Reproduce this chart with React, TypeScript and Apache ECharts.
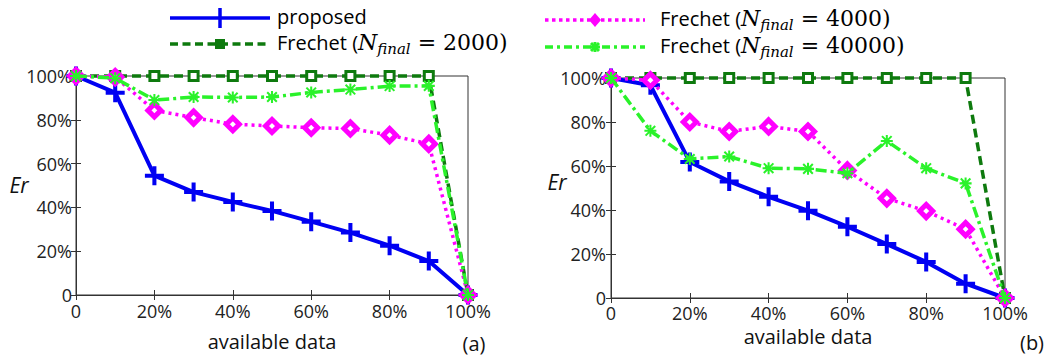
import React, { useEffect, useRef } from 'react';
import * as echarts from 'echarts';

// ---------- data ----------
const availableData = [0, 10, 20, 30, 40, 50, 60, 70, 80, 90, 100];

// panel (a)
const proposedA = [100, 92.4, 54.5, 47, 42.5, 38.4, 33.5, 28.5, 22.5, 15.5, 0];
const frechet2000A = [100, 100, 100, 100, 100, 100, 100, 100, 100, 100, 0];
const frechet4000A = [100, 99.5, 84.3, 81, 78, 77.2, 76.4, 76, 73, 69, 0];
const frechet40000A = [100, 99, 89, 90.4, 90.2, 90.4, 92.5, 93.8, 95.4, 95.5, 0];

// panel (b)
const proposedB = [100, 96.7, 61.8, 53, 46, 39.7, 32.4, 24.5, 16.4, 6.5, 0];
const frechet2000B = [100, 100, 100, 100, 100, 100, 100, 100, 100, 100, 0];
const frechet4000B = [100, 99, 80, 75.7, 78, 75.7, 58, 45.3, 39.5, 31.3, 0];
const frechet40000B = [100, 76, 63.2, 64.3, 59, 58.7, 56.7, 71.4, 59, 52.1, 0];

const seriesNames = ['proposed', 'Frechet (N_final = 2000)', 'Frechet (N_final = 4000)', 'Frechet (N_final = 40000)'];
const legendNumbers = ['', '2000', '4000', '40000'];
const panelLabels = ['(a)', '(b)'];

// ---------- styles ----------
const BLUE = '#0000f2';
const DARK = '#0e7a0e';
const PINK = '#ff00ff';
const LIME = '#2af22a';
const SANS = '"Open Sans", sans-serif';
const SERIF = '"DejaVu Serif", serif';

const PLUS = 'path://M0,6.3L16,6.3L16,9.7L0,9.7Z M6.3,0L9.7,0L9.7,16L6.3,16Z';
const STAR =
  'path://M0,8.3L20,8.3L20,11.7L0,11.7Z M8.3,0L11.7,0L11.7,20L8.3,20Z M3.2,0.8L19.2,16.8L16.8,19.2L0.8,3.2Z M16.8,0.8L19.2,3.2L3.2,19.2L0.8,16.8Z';

const pct = (v: number) => (v === 0 ? '0' : `${v}%`);

const pairs = (vals: number[]) => availableData.map((x, i) => [x, vals[i]]);

function makeSeries(idx: number, vals: number[], grid: number) {
  const base: any = {
    type: 'line',
    name: seriesNames[idx],
    xAxisIndex: grid,
    yAxisIndex: grid,
    data: pairs(vals),
    clip: false,
    z: 3 + idx,
  };
  if (idx === 0) {
    return {
      ...base,
      symbol: PLUS,
      symbolSize: 19,
      itemStyle: { color: BLUE },
      lineStyle: { color: BLUE, width: 4 },
    };
  }
  if (idx === 1) {
    return {
      ...base,
      symbol: 'rect',
      symbolSize: 9,
      itemStyle: { color: '#ffffff', borderColor: DARK, borderWidth: 3 },
      lineStyle: { color: DARK, width: 3.5, type: [9, 5] },
    };
  }
  if (idx === 2) {
    return {
      ...base,
      symbol: 'diamond',
      symbolSize: 13,
      itemStyle: { color: '#ffffff', borderColor: PINK, borderWidth: 5 },
      lineStyle: { color: PINK, width: 3.5, type: [3, 4] },
    };
  }
  return {
    ...base,
    symbol: STAR,
    symbolSize: 12,
    itemStyle: { color: LIME },
    lineStyle: { color: LIME, width: 3.5, type: [11, 4, 3, 4] },
  };
}

const grids = [
  { left: 76, top: 76, width: 392, height: 219 },
  { left: 611, top: 78, width: 394, height: 220 },
];

const lineCol = '#333';

function mainX(g: number, nameGap: number, margin: number) {
  return {
    type: 'value',
    gridIndex: g,
    min: 0,
    max: 100,
    interval: 20,
    name: 'available data',
    nameLocation: 'middle',
    nameGap,
    nameTextStyle: { fontFamily: SANS, fontSize: 20, color: '#111' },
    axisLine: { show: true, lineStyle: { color: lineCol, width: 1 } },
    axisTick: { show: true, inside: true, length: 5, lineStyle: { color: lineCol } },
    axisLabel: { formatter: pct, fontFamily: SANS, fontSize: 18, color: '#222', margin },
    splitLine: { show: false },
  };
}
function topX(g: number) {
  return {
    type: 'value',
    gridIndex: g,
    position: 'top',
    min: 0,
    max: 100,
    interval: 20,
    axisLine: { show: true, lineStyle: { color: lineCol, width: 1 } },
    axisTick: { show: true, inside: true, length: 5, lineStyle: { color: lineCol } },
    axisLabel: { show: false },
    splitLine: { show: false },
  };
}
function mainY(g: number, margin: number) {
  return {
    type: 'value',
    gridIndex: g,
    min: 0,
    max: 100,
    interval: 20,
    axisLine: { show: true, lineStyle: { color: lineCol, width: 1 } },
    axisTick: { show: true, inside: true, length: 5, lineStyle: { color: lineCol } },
    axisLabel: { formatter: pct, fontFamily: SANS, fontSize: 18, color: '#222', margin },
    splitLine: { show: false },
  };
}
function rightY(g: number) {
  return {
    type: 'value',
    gridIndex: g,
    position: 'right',
    min: 0,
    max: 100,
    interval: 20,
    axisLine: { show: true, lineStyle: { color: lineCol, width: 1 } },
    axisTick: { show: true, inside: true, length: 5, lineStyle: { color: lineCol } },
    axisLabel: { show: false },
    splitLine: { show: false },
  };
}

const richLegend = {
  i: { fontFamily: SERIF, fontStyle: 'italic', fontSize: 22, lineHeight: 28, verticalAlign: 'middle' },
  s: { fontFamily: SERIF, fontStyle: 'italic', fontSize: 15, lineHeight: 15, verticalAlign: 'bottom' },
  m: { fontFamily: SERIF, fontSize: 22, lineHeight: 28, verticalAlign: 'middle' },
  t: { fontFamily: SANS, fontSize: 20, lineHeight: 28, verticalAlign: 'middle' },
};

function legendText(n: string) {
  return `{t|Frechet (}{i|N}{s|final}{m| = ${n})}`;
}

function legendEntry(idx: number, x1: number, y: number, textX: number): any[] {
  const x2 = x1 + 100;
  const cx = x1 + 50;
  const els: any[] = [];
  if (idx === 0) {
    els.push({ type: 'line', shape: { x1, y1: y, x2, y2: y }, style: { stroke: BLUE, lineWidth: 3.5 } });
    els.push({ type: 'line', shape: { x1: cx, y1: y - 10, x2: cx, y2: y + 10 }, style: { stroke: BLUE, lineWidth: 3.5 } });
  } else if (idx === 1) {
    els.push({ type: 'line', shape: { x1, y1: y, x2, y2: y }, style: { stroke: DARK, lineWidth: 3.5, lineDash: [8, 4.5] } });
    els.push({ type: 'rect', shape: { x: cx - 5, y: y - 5, width: 10, height: 10 }, style: { fill: DARK } });
  } else if (idx === 2) {
    els.push({ type: 'line', shape: { x1, y1: y, x2, y2: y }, style: { stroke: PINK, lineWidth: 3.5, lineDash: [3.5, 3.5] } });
    els.push({
      type: 'polygon',
      shape: { points: [[cx, y - 7], [cx + 6, y], [cx, y + 7], [cx - 6, y]] },
      style: { fill: PINK },
    });
  } else {
    els.push({ type: 'line', shape: { x1, y1: y, x2, y2: y }, style: { stroke: LIME, lineWidth: 3.5, lineDash: [8, 4, 3, 4] } });
    els.push({ type: 'line', shape: { x1: cx - 5, y1: y, x2: cx + 5, y2: y }, style: { stroke: LIME, lineWidth: 3 } });
    els.push({ type: 'line', shape: { x1: cx, y1: y - 5, x2: cx, y2: y + 5 }, style: { stroke: LIME, lineWidth: 3 } });
    els.push({ type: 'line', shape: { x1: cx - 4, y1: y - 4, x2: cx + 4, y2: y + 4 }, style: { stroke: LIME, lineWidth: 3 } });
    els.push({ type: 'line', shape: { x1: cx + 4, y1: y - 4, x2: cx - 4, y2: y + 4 }, style: { stroke: LIME, lineWidth: 3 } });
  }
  const text = idx === 0 ? seriesNames[0] : legendText(legendNumbers[idx]);
  els.push({
    type: 'text',
    x: textX,
    y: y - 2,
    style: {
      text,
      fill: '#000',
      font: `20px ${SANS}`,
      verticalAlign: 'middle',
      align: 'left',
      rich: richLegend,
    },
  });
  return els;
}

export default function App() {
  const ref = useRef<HTMLDivElement>(null);
  useEffect(() => {
    document.body.style.margin = '0';
    if (!ref.current) return;
    const chart = echarts.init(ref.current, undefined, { renderer: 'svg' });
    const option: any = {
      animation: false,
      backgroundColor: '#ffffff',
      grid: grids.map((g) => ({ ...g, show: true, borderColor: lineCol, borderWidth: 1, backgroundColor: 'transparent' })),
      xAxis: [mainX(0, 36, 7), mainX(1, 28, 6), topX(0), topX(1)],
      yAxis: [mainY(0, 4), mainY(1, 5), rightY(0), rightY(1)],
      series: [
        makeSeries(0, proposedA, 0),
        makeSeries(1, frechet2000A, 0),
        makeSeries(2, frechet4000A, 0),
        makeSeries(3, frechet40000A, 0),
        makeSeries(0, proposedB, 1),
        makeSeries(1, frechet2000B, 1),
        makeSeries(2, frechet4000B, 1),
        makeSeries(3, frechet40000B, 1),
      ],
      graphic: [
        ...legendEntry(0, 170, 18, 277),
        ...legendEntry(1, 170, 44, 277),
        ...legendEntry(2, 545, 20, 660),
        ...legendEntry(3, 545, 47, 660),
        {
          type: 'text',
          x: 19,
          y: 185,
          style: { text: 'Er', font: `italic 21px ${SANS}`, fill: '#111', align: 'center', verticalAlign: 'middle' },
        },
        {
          type: 'text',
          x: 557,
          y: 182,
          style: { text: 'Er', font: `italic 21px ${SANS}`, fill: '#111', align: 'center', verticalAlign: 'middle' },
        },
        {
          type: 'text',
          x: 474,
          y: 343,
          style: { text: panelLabels[0], font: `20px ${SANS}`, fill: '#111', align: 'center', verticalAlign: 'middle' },
        },
        {
          type: 'text',
          x: 1032,
          y: 342,
          style: { text: panelLabels[1], font: `20px ${SANS}`, fill: '#111', align: 'center', verticalAlign: 'middle' },
        },
      ],
    };
    chart.setOption(option);
    return () => chart.dispose();
  }, []);
  return <div ref={ref} style={{ width: 1058, height: 360 }} />;
}
